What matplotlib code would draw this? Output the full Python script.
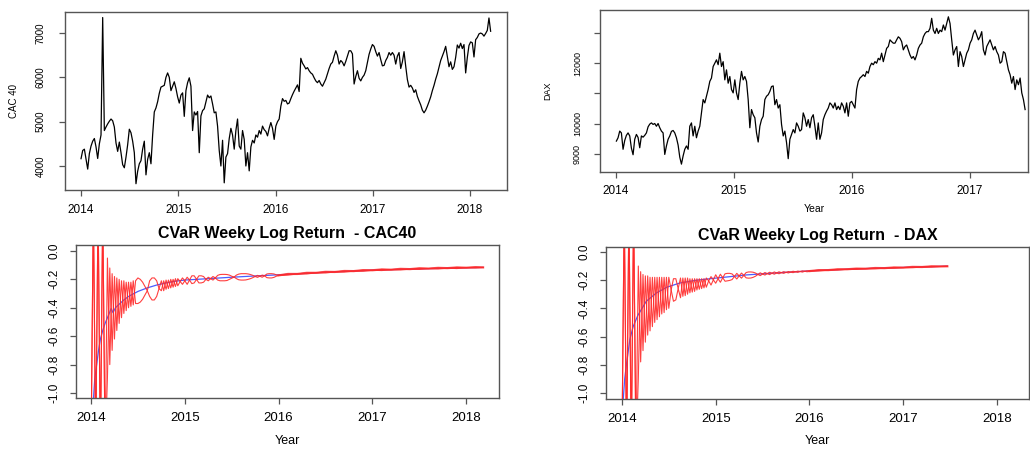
import matplotlib
matplotlib.use("Agg")
import matplotlib.pyplot as plt
import numpy as np

plt.rcParams['font.family'] = ['Liberation Sans', 'DejaVu Sans']

# ---------------- data ----------------
# CAC 40 close, sampled about every 6 days, 2014.0 -> 2018.21
cac_span = (2014.0, 2018.212)
cac_close = [
    4165, 4350, 4380, 4150, 3930, 4280, 4450, 4560, 4620, 4430,
    4170, 4500, 4700, 7350, 4800, 4880, 4950, 5010, 5060, 5020,
    4880, 4520, 4330, 4540, 4300, 4030, 3960, 4200, 4480, 4830,
    4750, 4560, 4300, 3600, 3880, 4050, 4120, 4380, 4560, 3800,
    4150, 4300, 4050, 4700, 5220, 5310, 5450, 5640, 5780, 5800,
    5820, 6000, 6100, 6000, 5700, 5800, 5900, 5750, 5560, 5420,
    5600, 5650, 5120, 5700, 5880, 5990, 5800, 4800, 5220, 5150,
    5230, 4300, 5130, 5250, 5290, 5450, 5600, 5540, 5580, 5400,
    5200, 5220, 4900, 4350, 4000, 4580, 3620, 4200, 4280, 4620,
    4850, 4700, 4380, 4800, 5060, 4450, 4380, 4800, 4600, 4000,
    4300, 3890, 4430, 4580, 4520, 4700, 4650, 4800, 4720, 4900,
    4820, 4780, 4680, 4850, 4980, 4850, 4600, 4900, 5000, 5060,
    5350, 5520, 5460, 5480, 5400, 5420, 5520, 5610, 5690, 5760,
    5830, 5680, 6430, 6320, 6260, 6190, 6220, 6150, 6100, 6070,
    5990, 5920, 5880, 5930, 5850, 5800, 5880, 5960, 6080, 6200,
    6300, 6340, 6480, 6600, 6500, 6300, 6380, 6340, 6260, 6360,
    6480, 6600, 6600, 6530, 5850, 6020, 6150, 5980, 5920, 6000,
    6050, 6150, 6330, 6520, 6640, 6740, 6700, 6580, 6480, 6560,
    6400, 6260, 6270, 6380, 6450, 6560, 6500, 6560, 6500, 6300,
    6480, 6560, 6200, 6350, 6580, 6250, 5950, 5780, 5820, 5760,
    5660, 5720, 5570, 5470, 5380, 5260, 5200, 5260, 5350, 5450,
    5560, 5700, 5820, 5960, 6080, 6230, 6380, 6480, 6580, 6700,
    6470, 6240, 6350, 6180, 6240, 6450, 6730, 6660, 6770, 6650,
    6740, 6100, 6450, 6720, 6800, 6780, 6460, 6850, 6900, 6980,
    7000, 6980, 6930, 6990, 7060, 7340, 7040]

# DAX close, 2014.0 -> 2017.47
dax_span = (2014.003, 2017.466)
dax_close = [
    9430, 9540, 9760, 9700, 9160, 9450, 9620, 9700, 9600, 9200,
    8980, 9490, 9650, 9550, 9210, 9600, 9560, 9620, 9700, 9900,
    9990, 10030, 9980, 10010, 9920, 10010, 9870, 9760, 9700, 8990,
    9270, 9490, 9600, 9750, 9780, 9700, 9540, 9300, 8900, 8670,
    8940, 9160, 9270, 9160, 9920, 10030, 9600, 9920, 9540, 9760,
    9920, 10360, 10800, 10690, 10910, 11130, 11400, 11510, 11890, 12000,
    12110, 11950, 12330, 11890, 12050, 11450, 11780, 11340, 11560, 11130,
    11020, 11450, 11020, 10800, 11340, 11730, 11450, 11560, 11400, 10800,
    9870, 10470, 10300, 10200, 9700, 9400, 9920, 10140, 10250, 10800,
    10910, 10960, 11070, 11230, 11250, 10630, 10800, 10520, 10630, 9980,
    9600, 9760, 9380, 8850, 9490, 9650, 9810, 9700, 10030, 9920,
    9760, 9810, 10360, 10200, 9920, 10140, 9870, 10200, 10300, 9920,
    9490, 10030, 9490, 9700, 10140, 10300, 10420, 10520, 10690, 10630,
    10520, 10690, 10470, 10580, 10470, 10690, 10580, 10360, 10690, 10250,
    10690, 10740, 10630, 10520, 11130, 11400, 11510, 11560, 11620, 11560,
    11730, 11670, 11890, 12000, 11950, 12050, 12000, 12160, 12110, 12330,
    12050, 12270, 12490, 12550, 12770, 12710, 12660, 12660, 12770, 12870,
    12820, 12710, 12440, 12550, 12600, 12440, 12270, 12160, 12220, 12110,
    12270, 12490, 12600, 12660, 12870, 12980, 13040, 13040, 13150, 13480,
    13090, 12980, 13150, 12980, 13090, 13040, 13260, 13090, 13310, 13530,
    13310, 12770, 12270, 12440, 12550, 11890, 12380, 12220, 11890, 12110,
    12330, 12440, 12660, 12770, 12980, 13090, 12930, 12770, 12870, 13040,
    12440, 12270, 12550, 12660, 12770, 12600, 12440, 12550, 12380, 12270,
    12000, 12050, 12380, 12330, 12050, 11780, 11620, 11340, 11560, 11130,
    11450, 11290, 11510, 11020, 10800, 10470]

years = [2014, 2015, 2016, 2017, 2018]

# CVaR bands: first two years on a 0.025-year grid, then a sparser tail
es_start, es_step = 2014.0, 0.025

cac_es_up = [
    -1.40, 0.30, -1.40, 0.30, -1.40, 0.30, -1.40, -0.05, -0.80, -0.16,
    -0.62, -0.19, -0.51, -0.21, -0.44, -0.22, -0.40, -0.22, -0.38, -0.21,
    -0.19, -0.20, -0.22, -0.25, -0.28, -0.21, -0.19, -0.19, -0.21, -0.265,
    -0.21, -0.28, -0.205, -0.265, -0.20, -0.255, -0.195, -0.245, -0.215, -0.19,
    -0.21, -0.185, -0.205, -0.175, -0.175, -0.20, -0.175, -0.175, -0.18, -0.20,
    -0.185, -0.195, -0.18, -0.19, -0.172, -0.166, -0.165, -0.165, -0.166, -0.17,
    -0.178, -0.184, -0.17, -0.163, -0.16, -0.16, -0.16, -0.162, -0.166, -0.172,
    -0.18, -0.172, -0.178, -0.17, -0.175, -0.162, -0.16, -0.16, -0.162, -0.168,
    -0.172]
cac_es_lo = [
    -1.40, 0.30, -1.40, 0.30, -1.40, 0.30, -1.40, -0.89, -0.12, -0.70,
    -0.18, -0.56, -0.20, -0.47, -0.21, -0.42, -0.22, -0.39, -0.21, -0.37,
    -0.37, -0.36, -0.34, -0.31, -0.28, -0.32, -0.345, -0.345, -0.32, -0.265,
    -0.28, -0.21, -0.27, -0.205, -0.26, -0.20, -0.25, -0.195, -0.215, -0.235,
    -0.21, -0.235, -0.205, -0.23, -0.225, -0.20, -0.225, -0.225, -0.22, -0.20,
    -0.21, -0.195, -0.205, -0.19, -0.205, -0.21, -0.21, -0.21, -0.208, -0.20,
    -0.192, -0.184, -0.195, -0.203, -0.205, -0.205, -0.204, -0.20, -0.195, -0.188,
    -0.18, -0.186, -0.178, -0.185, -0.175, -0.188, -0.19, -0.19, -0.186, -0.178,
    -0.172]
cac_tail_year = [2016.1, 2016.2, 2016.3, 2016.4, 2016.5, 2016.6, 2016.7, 2016.8,
                 2016.9, 2017.0, 2017.1, 2017.2, 2017.3, 2017.4, 2017.5, 2017.6,
                 2017.7, 2017.8, 2017.9, 2018.0, 2018.1, 2018.18]
cac_tail_up = [-0.162, -0.162, -0.154, -0.154, -0.147, -0.148, -0.141, -0.142,
               -0.135, -0.136, -0.130, -0.132, -0.126, -0.128, -0.122, -0.124,
               -0.119, -0.121, -0.116, -0.118, -0.114, -0.116]
cac_tail_lo = [-0.170, -0.162, -0.162, -0.154, -0.155, -0.148, -0.149, -0.142,
               -0.143, -0.136, -0.138, -0.132, -0.134, -0.128, -0.130, -0.124,
               -0.127, -0.121, -0.124, -0.118, -0.120, -0.116]
cac_mean_year = [2014.025, 2014.04, 2014.06, 2014.08, 2014.10, 2014.125, 2014.15,
                 2014.175, 2014.20, 2014.215, 2014.235, 2014.26, 2014.30, 2014.35,
                 2014.40, 2014.50, 2014.60, 2014.70, 2014.80, 2014.90, 2015.0,
                 2015.25, 2015.5, 2015.75, 2016.0, 2016.5, 2017.0, 2017.5, 2018.0,
                 2018.18]
cac_mean = [-1.05, -0.90, -0.80, -0.70, -0.62, -0.56, -0.51, -0.47, -0.43, -0.405,
            -0.435, -0.40, -0.375, -0.345, -0.32, -0.285, -0.26, -0.24, -0.225,
            -0.213, -0.205, -0.195, -0.185, -0.176, -0.168, -0.15, -0.135, -0.126,
            -0.118, -0.116]

dax_es_up = [
    -1.40, 0.30, -1.40, 0.30, -1.40, 0.30, -1.40, -0.10, -0.78, -0.16,
    -0.64, -0.17, -0.56, -0.18, -0.50, -0.18, -0.46, -0.18, -0.43, -0.18,
    -0.40, -0.27, -0.19, -0.19, -0.26, -0.185, -0.315, -0.185, -0.30, -0.19,
    -0.285, -0.19, -0.27, -0.19, -0.26, -0.19, -0.25, -0.205, -0.175, -0.198,
    -0.162, -0.19, -0.158, -0.183, -0.155, -0.152, -0.152, -0.156, -0.174, -0.152,
    -0.17, -0.15, -0.166, -0.146, -0.142, -0.142, -0.144, -0.15, -0.16, -0.148,
    -0.157, -0.146, -0.154, -0.144, -0.151, -0.142, -0.149, -0.141, -0.147, -0.14,
    -0.145, -0.139, -0.143, -0.137, -0.141, -0.136, -0.139, -0.134, -0.137, -0.133,
    -0.136]
dax_es_lo = [
    -1.40, 0.30, -1.40, 0.30, -1.40, 0.30, -1.40, -0.90, -0.14, -0.70,
    -0.17, -0.59, -0.18, -0.53, -0.18, -0.48, -0.18, -0.44, -0.18, -0.41,
    -0.18, -0.27, -0.35, -0.34, -0.26, -0.325, -0.185, -0.31, -0.185, -0.29,
    -0.19, -0.28, -0.19, -0.265, -0.19, -0.255, -0.185, -0.205, -0.235, -0.198,
    -0.222, -0.19, -0.215, -0.183, -0.208, -0.205, -0.202, -0.196, -0.174, -0.192,
    -0.17, -0.186, -0.166, -0.184, -0.186, -0.185, -0.18, -0.172, -0.16, -0.168,
    -0.157, -0.164, -0.154, -0.161, -0.151, -0.158, -0.149, -0.155, -0.147, -0.152,
    -0.145, -0.149, -0.143, -0.147, -0.141, -0.145, -0.139, -0.143, -0.137, -0.141,
    -0.136]
dax_tail_year = [2016.1, 2016.2, 2016.3, 2016.4, 2016.5, 2016.6, 2016.7, 2016.8,
                 2016.9, 2017.0, 2017.1, 2017.2, 2017.3, 2017.4, 2017.47]
dax_tail_up = [-0.129, -0.129, -0.123, -0.123, -0.118, -0.119, -0.114, -0.115,
               -0.110, -0.111, -0.106, -0.107, -0.102, -0.103, -0.102]
dax_tail_lo = [-0.135, -0.129, -0.129, -0.123, -0.124, -0.119, -0.120, -0.115,
               -0.116, -0.111, -0.112, -0.107, -0.108, -0.103, -0.102]
dax_mean_year = [2014.014, 2014.03, 2014.05, 2014.085, 2014.12, 2014.17, 2014.26,
                 2014.37, 2014.48, 2014.62, 2014.80, 2014.97, 2015.33, 2015.69,
                 2016.04, 2016.5, 2017.0, 2017.47]
dax_mean = [-1.05, -0.90, -0.79, -0.62, -0.53, -0.45, -0.35, -0.29, -0.25, -0.22,
            -0.20, -0.188, -0.163, -0.147, -0.133, -0.12, -0.11, -0.101]

es_ticks = [0.0, -0.2, -0.4, -0.6, -0.8, -1.0]
es_labels = ['0.0', '-0.2', '-0.4', '-0.6', '-0.8', '-1.0']

BOX = '#555555'
RED = '#ff2a2a'
BLUE = '#4a5cff'


def r_style(ax, xsize, ysize, xpad, ypad):
    for s in ax.spines.values():
        s.set_color(BOX)
        s.set_linewidth(1.0)
    ax.tick_params(direction='out', length=4, width=0.9, color=BOX)
    ax.tick_params(axis='x', labelsize=xsize, pad=xpad)
    ax.tick_params(axis='y', labelsize=ysize, pad=ypad)


fig = plt.figure(figsize=(10.3, 4.49), dpi=100)

# ---- CAC 40 price ----
ax1 = fig.add_axes([0.0631, 0.5768, 0.4291, 0.3964])
ax1.plot(np.linspace(*cac_span, len(cac_close)), cac_close, color='black', lw=0.9)
ax1.set_xlim(2013.835, 2018.38)
ax1.set_ylim(3458, 7474)
ax1.set_xticks(years)
ax1.set_yticks([4000, 5000, 6000, 7000], ['4000', '5000', '6000', '7000'],
               rotation=90, va='center')
r_style(ax1, 8.5, 7, 6, 10)
ax1.set_ylabel('CAC 40', fontsize=7, va='center')
ax1.yaxis.set_label_coords(-0.115, 0.5)

# ---- DAX price ----
ax2 = fig.add_axes([0.5825, 0.6169, 0.4155, 0.3608])
ax2.plot(np.linspace(*dax_span, len(dax_close)), dax_close, color='black', lw=0.9)
ax2.set_xlim(2013.864, 2017.49)
ax2.set_ylim(8410, 13754)
ax2.set_xticks([2014, 2015, 2016, 2017])
ax2.set_yticks([9000, 10000, 11000, 12000, 13000],
               ['9000', '10000', '', '12000', ''], rotation=90, va='center')
r_style(ax2, 8.5, 6.5, 5, 9)
ax2.set_ylabel('DAX', fontsize=6.5, va='center')
ax2.yaxis.set_label_coords(-0.121, 0.5)
ax2.set_xlabel('Year', fontsize=7.5, va='center')
ax2.xaxis.set_label_coords(0.5, -0.228)

# ---- CVaR panels ----
panels = [
    ([0.0738, 0.1136, 0.4107, 0.3408], 'CVaR Weeky Log Return  - CAC40',
     cac_es_up, cac_es_lo, cac_tail_year, cac_tail_up, cac_tail_lo,
     cac_mean_year, cac_mean, (2013.84, 2018.35), (-1.035, 0.042), -0.281),
    ([0.5883, 0.1114, 0.4107, 0.3385], 'CVaR Weeky Log Return  - DAX',
     dax_es_up, dax_es_lo, dax_tail_year, dax_tail_up, dax_tail_lo,
     dax_mean_year, dax_mean, (2013.83, 2018.34), (-1.043, 0.035), -0.276),
]
for (rect, title, up, lo, tyear, tup, tlo, myear, mval, xl, yl, ylab) in panels:
    ax = fig.add_axes(rect)
    grid = es_start + es_step * np.arange(len(up))
    xs = np.concatenate([grid, tyear])
    ax.plot(myear, mval, color=BLUE, lw=0.9)
    ax.plot(xs, np.concatenate([up, tup]), color=RED, lw=0.8, alpha=0.9)
    ax.plot(xs, np.concatenate([lo, tlo]), color=RED, lw=0.8, alpha=0.9)
    # the settled tail reads as a heavier red band
    ax.plot(np.concatenate([grid[-1:], tyear]), np.concatenate([up[-1:], tup]),
            color=RED, lw=1.6, alpha=0.75)
    ax.set_xlim(*xl)
    ax.set_ylim(*yl)
    ax.set_xticks(years)
    ax.set_yticks(es_ticks, es_labels, rotation=90, va='center')
    r_style(ax, 9.5, 8.5, 6, 7)
    ax.set_title(title, fontsize=11.5, fontweight='bold', pad=5)
    ax.set_xlabel('Year', fontsize=9, va='center')
    ax.xaxis.set_label_coords(0.5, ylab)

fig.savefig('out.png', dpi=100)
